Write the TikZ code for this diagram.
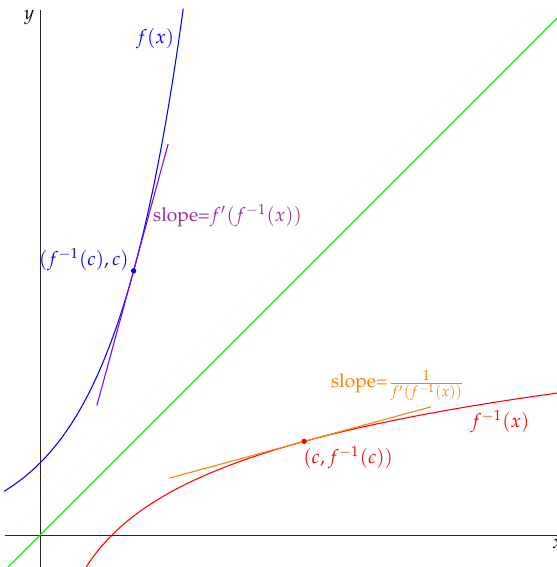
\documentclass[tikz,border=0pt]{standalone}
\usepackage[T1]{fontenc}
\usepackage{mathpazo}
\usepackage{xcolor}
\usepackage{tikz}
\usetikzlibrary{calc}
\definecolor{curveblue}{RGB}{0,0,255}
\definecolor{invred}{RGB}{255,0,0}
\definecolor{idgreen}{RGB}{0,230,0}
\definecolor{tanviolet}{RGB}{128,0,255}
\definecolor{slopepurple}{RGB}{150,50,150}
\definecolor{tanorange}{RGB}{255,128,0}

\begin{document}
\begin{tikzpicture}[
    font=\fontsize{7.6}{9}\selectfont,
    axis/.style={black!85, line width=0.35pt},
    curve/.style={line width=0.42pt, smooth, samples=120},
    tangent/.style={line width=0.42pt},
    dot/.style={circle, fill, inner sep=0pt, minimum size=2.1pt},
    lbl/.style={inner sep=1pt}
  ]
  \pgfmathsetmacro{\xo}{1.3}
  \pgfmathsetmacro{\cval}{exp(\xo)}
  \useasboundingbox (-0.5556,-0.4444) rectangle (7.1667,7.4306);

  \draw[axis] (-0.49,0) -- (7.3,0);
  \draw[axis] (0,-0.5) -- (0,7.29);
  \node[lbl] (ylbl) at (-0.15,7.19) {$y$};
  \node[lbl] (xlbl) at (7.19,-0.12) {$x$};

  \draw[idgreen, curve] (-0.47,-0.47) -- (7.2,7.2);
  \draw[curveblue, curve, domain=-0.5:1.99] plot (\x,{exp(\x)});
  \draw[invred, curve, domain=-0.5:1.98] plot ({exp(\x)},\x);

  \coordinate (pf) at (\xo,\cval);
  \coordinate (pinv) at (\cval,\xo);
  \draw[tanviolet, tangent] (0.79,{\cval*(1+0.79-\xo)}) -- (1.78,{\cval*(1+1.78-\xo)});
  \draw[tanorange, tangent] ({\cval*(1+0.79-\xo)},0.79) -- ({\cval*(1+1.78-\xo)},1.78);
  \node[dot, curveblue] (dotf) at (pf) {};
  \node[dot, invred] (dotinv) at (pinv) {};

  \node[lbl, curveblue] (flbl) at (1.6,6.9) {$f(x)$};
  \node[lbl, curveblue] (pflbl) at (0.61,3.82) {$(f^{-1}(c),c)$};
  \node[lbl, slopepurple, anchor=west] (slopef) at (1.53,4.44) {slope=$f'(f^{-1}(x))$};
  \node[lbl, tanorange, anchor=west] (slopeinv) at (4.0,2.08) {slope=$\frac{1}{f'(f^{-1}(x))}$};
  \node[lbl, invred] (invlbl) at (6.39,1.57) {$f^{-1}(x)$};
  \node[lbl, invred] (pinvlbl) at (4.28,1.07) {$(c,f^{-1}(c))$};
\end{tikzpicture}
\end{document}
